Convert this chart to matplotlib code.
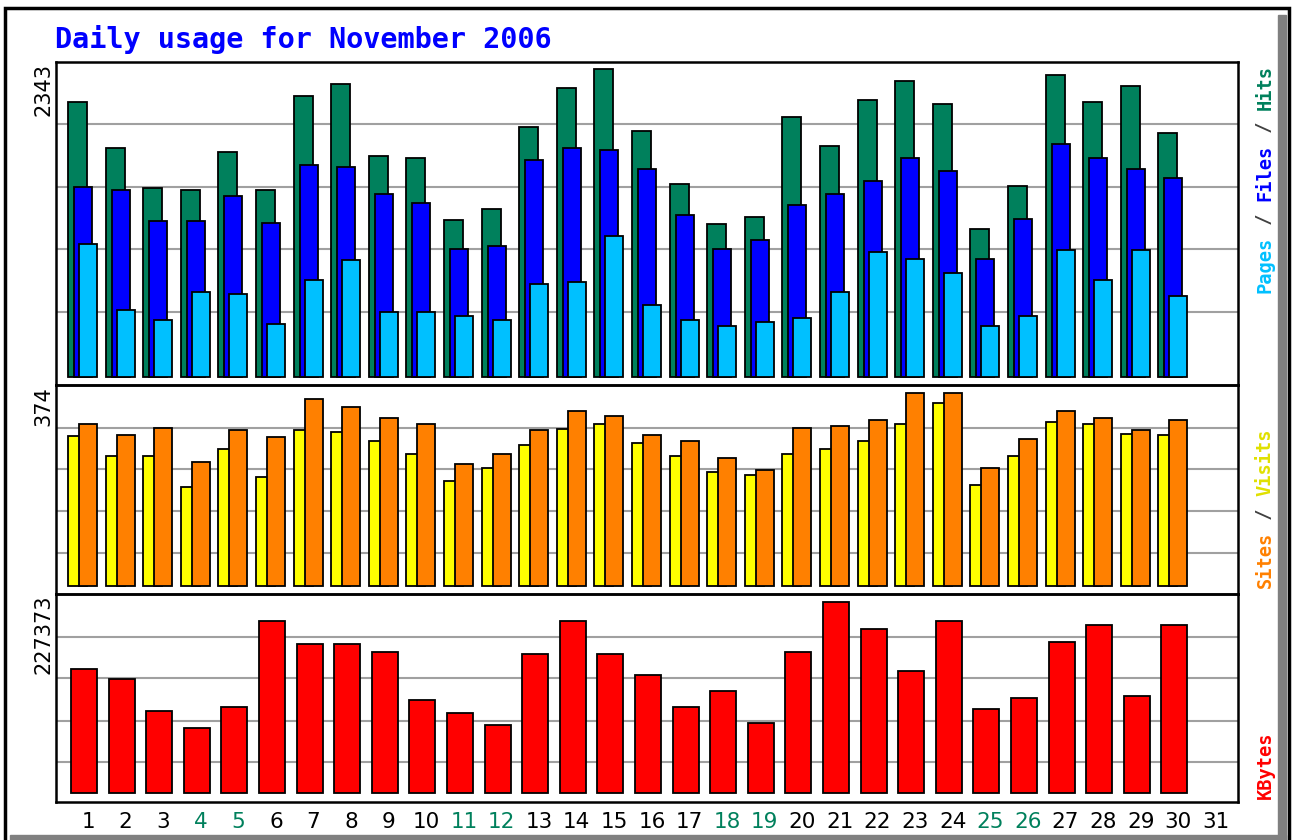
import matplotlib
matplotlib.use("Agg")
import matplotlib.pyplot as plt
from matplotlib.patches import Rectangle
import numpy as np

W, H = 1294, 840

days = list(range(1, 32))
weekend = [4, 5, 11, 12, 18, 19, 25, 26]

hits = [2092, 1742, 1438, 1423, 1712, 1423, 2138, 2229, 1681, 1666,
        1194, 1278, 1902, 2198, 2343, 1871, 1468, 1164, 1217, 1978,
        1757, 2107, 2252, 2077, 1126, 1453, 2297, 2092, 2214, 1856]
files = [1445, 1423, 1187, 1187, 1377, 1171, 1613, 1597, 1392, 1324,
         974, 997, 1651, 1742, 1727, 1582, 1232, 974, 1042, 1308,
         1392, 1491, 1666, 1567, 898, 1202, 1772, 1666, 1582, 1514]
pages = [1012, 510, 434, 647, 631, 403, 738, 890, 494, 494,
         464, 434, 707, 723, 1073, 548, 434, 388, 418, 449,
         647, 951, 898, 791, 388, 464, 966, 738, 966, 616]

visits = [291, 252, 252, 192, 266, 211, 302, 298, 281, 256,
          203, 229, 273, 304, 314, 277, 252, 221, 215, 256,
          266, 281, 314, 355, 196, 252, 318, 314, 295, 293]
sites = [314, 293, 306, 240, 302, 289, 362, 347, 326, 314,
         236, 256, 302, 339, 329, 293, 281, 248, 225, 306,
         310, 322, 374, 374, 229, 285, 339, 326, 302, 322]

kbytes = [147610, 135706, 97613, 77376, 102374, 204749, 177370, 177370, 167846, 110707,
          95232, 80947, 165466, 204749, 165466, 140467, 102374, 121421, 83328, 167846,
          227373, 195226, 145229, 204749, 99994, 113088, 179750, 199987, 115469, 199987]

max_hits, max_sites, max_kbytes = 2343, 374, 227373

C_HITS = "#00805c"
C_FILES = "#0000ff"
C_PAGES = "#00c0ff"
C_VISITS = "#ffff00"
C_SITES = "#ff8000"
C_KB = "#ff0000"
C_GRID = "#a0a0a0"

fig = plt.figure(figsize=(W / 100, H / 100), dpi=100)
fig.patch.set_facecolor("white")


def fx(px):
    return px / W


def fy(py):
    return 1 - py / H


# outer frame with grey shadow
fig.patches.append(Rectangle((fx(1278), fy(840)), fx(8), fy(15) - fy(840),
                             transform=fig.transFigure, color="#808080", zorder=0))
fig.patches.append(Rectangle((fx(10), fy(840)), fx(1276), fy(835) - fy(840),
                             transform=fig.transFigure, color="#808080", zorder=0))
fig.patches.append(Rectangle((fx(5), fy(842)), fx(1284), fy(8) - fy(842),
                             transform=fig.transFigure, fill=False, edgecolor="black",
                             linewidth=2.5, zorder=1))

x_left, x_right = 56, 1238
x0 = 88          # pixel centre of day 1
slot = 37.6      # pixels per day
xlim = (1 - (x0 - x_left) / slot, 1 + (x_right - x0) / slot)

# (frame top, frame bottom, bar baseline, pixel of max value, gridline pixels)
panels = [
    (62, 385, 377, 69, [124, 187, 249, 312], max_hits),
    (385, 594, 586, 393, [428, 469, 511, 553], max_sites),
    (594, 802, 793, 602, [637, 678, 721, 762], max_kbytes),
]

axes = []
for top, bot, base, pmax, grid, vmax in panels:
    ax = fig.add_axes([fx(x_left), fy(bot), fx(x_right - x_left), fy(top) - fy(bot)])
    per_px = vmax / (base - pmax)
    ax.set_ylim(-(bot - base) * per_px, (base - top) * per_px)
    ax.set_xlim(*xlim)
    for g in grid:
        f = (bot - g) / (bot - top)
        ax.plot([0, 1], [f, f], transform=ax.transAxes, color=C_GRID, lw=1.5, zorder=0)
    ax.set_xticks([])
    ax.set_yticks([])
    for s in ax.spines.values():
        s.set_linewidth(1.8)
    ax.set_facecolor("none")
    axes.append(ax)

d = np.array(days[:30], dtype=float)
u = 1 / slot
ek = dict(edgecolor="black", linewidth=1.3, align="edge")

ax1, ax2, ax3 = axes
ax1.bar(d - 20 * u, hits, width=19 * u, color=C_HITS, zorder=2, **ek)
ax1.bar(d - 14 * u, files, width=18 * u, color=C_FILES, zorder=3, **ek)
ax1.bar(d - 9 * u, pages, width=18 * u, color=C_PAGES, zorder=4, **ek)

ax2.bar(d - 20 * u, visits, width=19 * u, color=C_VISITS, zorder=2, **ek)
ax2.bar(d - 9 * u, sites, width=18 * u, color=C_SITES, zorder=3, **ek)

ax3.bar(d - 17 * u, kbytes, width=26 * u, color=C_KB, zorder=2, **ek)

# title
fig.text(fx(55), fy(40), "Daily usage for November 2006", color="#0000ff",
         family="DejaVu Sans Mono", weight="bold", fontsize=20.5, va="center", ha="left")

# max value labels on the left
for (top, bot, base, pmax, grid, vmax) in panels:
    fig.text(fx(43), fy(top + 1), str(vmax), rotation=90, ha="center", va="top",
             fontsize=15, color="black")

# day labels
for day in days:
    px = x0 + (day - 1) * slot
    fig.text(fx(px), fy(822), str(day), ha="center", va="center", fontsize=15.5,
             color=C_HITS if day in weekend else "black")

# right-hand legends, drawn piece by piece with a monospace font
mono = dict(family="DejaVu Sans Mono", weight="bold", fontsize=13.5, rotation=90,
            ha="center", va="center")
cw = 11.5  # pixels per character


def legend(parts, y_start, anchor):
    # parts listed bottom-to-top
    n = len("".join(p for p, _ in parts))
    y_bottom = y_start + n * cw if anchor == "top" else y_start
    pos = 0
    for p, col in parts:
        mid = y_bottom - (pos + len(p) / 2) * cw
        fig.text(fx(1265), fy(mid), p, color=col, **mono)
        pos += len(p)


legend([("Pages", C_PAGES), (" / ", "#404040"), ("Files", C_FILES),
        (" / ", "#404040"), ("Hits", C_HITS)], 64, "top")
legend([("Sites", C_SITES), (" / ", "#404040"), ("Visits", "#e0e000")], 589, "bottom")
legend([("KBytes", C_KB)], 800, "bottom")

fig.savefig("out.png", dpi=100, facecolor="white")
